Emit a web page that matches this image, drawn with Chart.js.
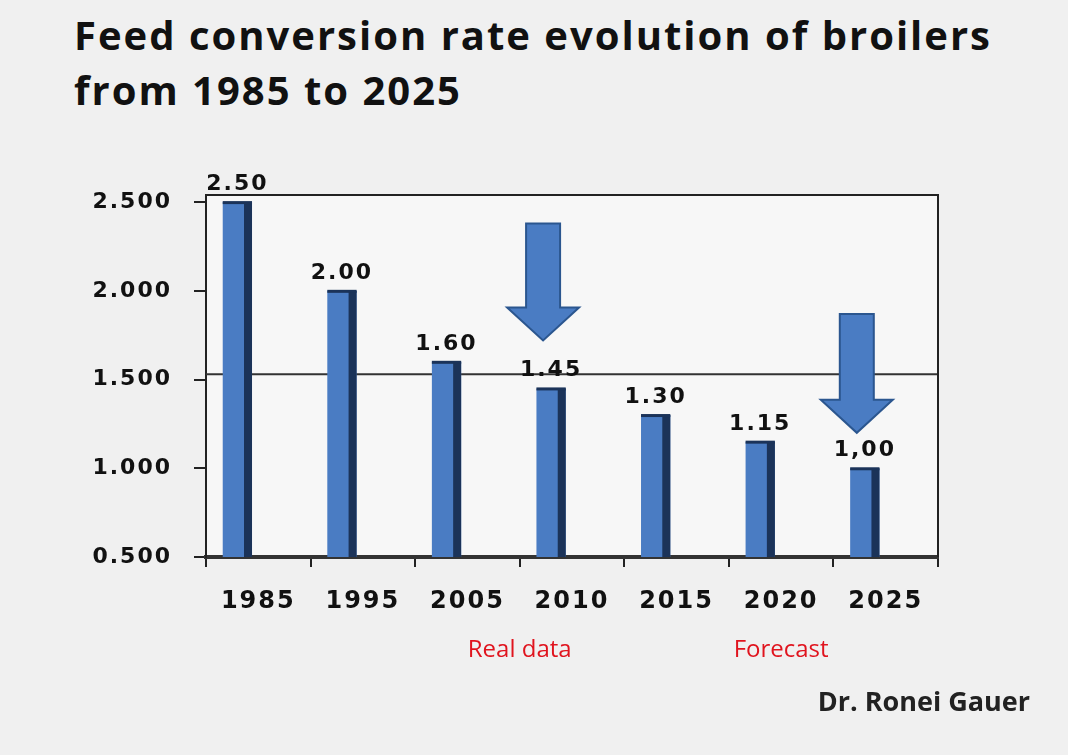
<!DOCTYPE html>
<html>
<head>
<meta charset="utf-8">
<script src="https://cdn.jsdelivr.net/npm/chart.js@4.4.1/dist/chart.umd.min.js"></script>
<style>
  html, body { margin: 0; padding: 0; background: #f0f0f0; }
  body { width: 1068px; height: 755px; position: relative; overflow: hidden; font-family: 'Open Sans', sans-serif; }
  #title { position: absolute; left: 74px; top: 7px; margin: 0; font-weight: 700; font-size: 40px; letter-spacing: 2px; line-height: 55px; color: #111; white-space: nowrap; }
  #author { position: absolute; right: 38px; top: 682px; font-weight: 700; font-size: 27px; color: #222; }
  #wrap { position: absolute; left: 0; top: 0; width: 1068px; height: 755px; }
</style>
</head>
<body>
<h1 id="title">Feed conversion rate evolution of broilers<br>from 1985 to 2025</h1>
<div id="wrap"><canvas id="fcrChart"></canvas></div>
<div id="author">Dr. Ronei Gauer</div>
<script>
const years = ['1985', '1995', '2005', '2010', '2015', '2020', '2025'];
const fcrValues = [2.50, 2.00, 1.60, 1.45, 1.30, 1.15, 1.00];
const valueLabels = ['2.50', '2.00', '1.60', '1.45', '1.30', '1.15', '1,00'];
const spacer = [null, null, null, null, null, null, null];
const yTicks = [0.5, 1.0, 1.5, 2.0, 2.5];
const refLine = 1.53;
// [bar index, arrow top value, arrow tip value]
const arrows = [[3, 2.38, 1.72], [6, 1.87, 1.20]];
// [text, category position]
const periodNotes = [['Real data', 2.5], ['Forecast', 5]];

const decor = {
    id: 'decor',
    beforeLayout(chart) { chart.ctx.letterSpacing = '2px'; },
    beforeDraw(chart) {
        const { ctx, chartArea: a } = chart;
        ctx.letterSpacing = '2px';
        ctx.save();
        ctx.fillStyle = '#f7f7f7';
        ctx.fillRect(a.left, a.top, a.right - a.left, a.bottom - a.top);
        ctx.restore();
    },
    beforeDatasetsDraw(chart) {
        const { ctx, chartArea: a, scales } = chart;
        const y = scales.y.getPixelForValue(refLine);
        ctx.save();
        ctx.strokeStyle = '#333';
        ctx.lineWidth = 2;
        ctx.beginPath();
        ctx.moveTo(a.left, y);
        ctx.lineTo(a.right, y);
        ctx.stroke();
        ctx.restore();
    },
    afterDatasetsDraw(chart) {
        const { ctx, chartArea: a, scales } = chart;
        const bars = chart.getDatasetMeta(0).data;
        ctx.save();
        // 3D side + top of each bar
        bars.forEach(el => {
            const right = el.x + el.width / 2;
            const bottom = Math.min(el.base, a.bottom);
            ctx.fillStyle = '#1b3359';
            ctx.fillRect(right - 8, el.y, 8, bottom - el.y);
            ctx.fillRect(el.x - el.width / 2, el.y - 1, el.width, 3);
        });
        // value labels
        ctx.letterSpacing = '2px';
        ctx.font = 'bold 22px "DejaVu Sans"';
        ctx.fillStyle = '#111';
        ctx.textAlign = 'center';
        ctx.textBaseline = 'alphabetic';
        bars.forEach((el, i) => ctx.fillText(valueLabels[i], el.x, el.y - 12));
        // arrows
        arrows.forEach(([i, v0, v1]) => {
            const cx = bars[i].x - 8;
            const y0 = scales.y.getPixelForValue(v0);
            const y1 = scales.y.getPixelForValue(v1);
            const hh = 33;
            ctx.beginPath();
            ctx.moveTo(cx - 17, y0);
            ctx.lineTo(cx + 17, y0);
            ctx.lineTo(cx + 17, y1 - hh);
            ctx.lineTo(cx + 36, y1 - hh);
            ctx.lineTo(cx, y1);
            ctx.lineTo(cx - 36, y1 - hh);
            ctx.lineTo(cx - 17, y1 - hh);
            ctx.closePath();
            ctx.fillStyle = '#4a7cc3';
            ctx.fill();
            ctx.strokeStyle = '#2b568f';
            ctx.lineWidth = 2;
            ctx.stroke();
        });
        // plot frame
        ctx.strokeStyle = '#222';
        ctx.lineWidth = 2;
        ctx.beginPath();
        ctx.moveTo(a.left, a.top);
        ctx.lineTo(a.right, a.top);
        ctx.lineTo(a.right, a.bottom);
        ctx.stroke();
        ctx.restore();
    },
    afterDraw(chart) {
        const { ctx, chartArea: a, scales } = chart;
        ctx.save();
        ctx.letterSpacing = '0px';
        ctx.font = '24px "Open Sans"';
        ctx.fillStyle = '#e0141e';
        ctx.textAlign = 'center';
        ctx.textBaseline = 'middle';
        periodNotes.forEach(([txt, pos]) => ctx.fillText(txt, scales.x.getPixelForValue(pos), a.bottom + 93));
        ctx.restore();
    }
};

new Chart(document.getElementById('fcrChart'), {
    type: 'bar',
    data: {
        labels: years,
        datasets: [
            { label: 'FCR', data: fcrValues, backgroundColor: '#4a7cc3', categoryPercentage: 0.8, barPercentage: 0.7 },
            { label: '', data: spacer, categoryPercentage: 0.8, barPercentage: 0.7 }
        ]
    },
    options: {
        responsive: true,
        maintainAspectRatio: false,
        animation: false,
        layout: { padding: { top: 195, left: 86, right: 130, bottom: 138 } },
        plugins: { legend: { display: false }, tooltip: { enabled: false } },
        scales: {
            x: {
                afterFit: s => { s.height = 60; },
                grid: { drawOnChartArea: false, tickLength: 10, color: '#222', lineWidth: 2, offset: true },
                border: { color: '#333', width: 4 },
                ticks: { color: '#111', font: { family: 'DejaVu Sans', size: 24, weight: 'bold' }, padding: 20 }
            },
            y: {
                min: 0.5,
                max: 2.54,
                afterBuildTicks: s => { s.ticks = yTicks.map(v => ({ value: v })); },
                afterFit: s => { s.width = 120; },
                grid: { drawOnChartArea: false, tickLength: 12, color: '#222', lineWidth: 2 },
                border: { color: '#222', width: 2 },
                ticks: { color: '#111', font: { family: 'DejaVu Sans', size: 22, weight: 'bold' }, padding: 22,
                    callback: v => Number(v).toFixed(3) }
            }
        }
    },
    plugins: [decor]
});
</script>
</body>
</html>
